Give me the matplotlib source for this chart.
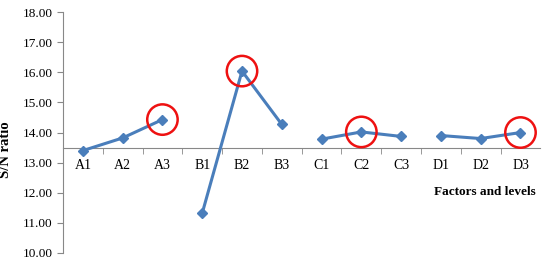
import matplotlib.pyplot as plt
import numpy as np

plt.rcParams['font.family'] = ['Liberation Serif', 'DejaVu Serif']

levels = ["A1", "A2", "A3", "B1", "B2", "B3", "C1", "C2", "C3", "D1", "D2", "D3"]
sn_ratio = [13.40, 13.82, 14.43, 11.32, 16.04, 14.27, 13.78, 14.02, 13.87, 13.90, 13.80, 14.00]
groups = [(0, 3), (3, 6), (6, 9), (9, 12)]
best = ["A3", "B2", "C2", "D3"]

fig = plt.figure(figsize=(5.5, 2.68), dpi=100)
ax = fig.add_axes([0.1145, 0.056, 0.868, 0.899])

x = np.arange(len(levels))
for a, b in groups:
    ax.plot(x[a:b], sn_ratio[a:b], color="#4a7ebb", lw=2.2, marker="D", ms=5.5, zorder=3)

bx = [levels.index(l) for l in best]
by = [sn_ratio[i] for i in bx]
ax.scatter(bx, by, s=480, facecolors="none", edgecolors="#ee1111", linewidths=1.8, zorder=4)

ax.set_xlim(-0.5, len(levels) - 0.5)
ax.set_ylim(10, 18)
ax.set_yticks(np.arange(10, 18.01, 1))
ax.set_yticklabels(["%.2f" % v for v in np.arange(10, 18.01, 1)], fontsize=9.5)

ax.spines["top"].set_visible(False)
ax.spines["right"].set_visible(False)
ax.spines["bottom"].set_position(("data", 13.5))
ax.spines["left"].set_color("#888888")
ax.spines["bottom"].set_color("#888888")

ax.set_xticks(x)
ax.set_xticklabels(levels, fontsize=10)
ax.set_xticks(np.arange(0.5, len(levels) - 0.5, 1), minor=True)
ax.tick_params(axis="x", which="major", length=0, pad=8)
ax.tick_params(axis="x", which="minor", length=4, color="#888888", direction="out")
ax.tick_params(axis="y", length=4, color="#888888", direction="out")

ax.set_ylabel("S/N ratio", fontsize=10.5, fontweight="bold")
ax.yaxis.set_label_coords(-0.107, 0.427)
ax.text(0.99, 0.253, "Factors and levels", transform=ax.transAxes, ha="right", va="center",
        fontsize=9.5, fontweight="bold")

fig.savefig("out.png", dpi=100)
